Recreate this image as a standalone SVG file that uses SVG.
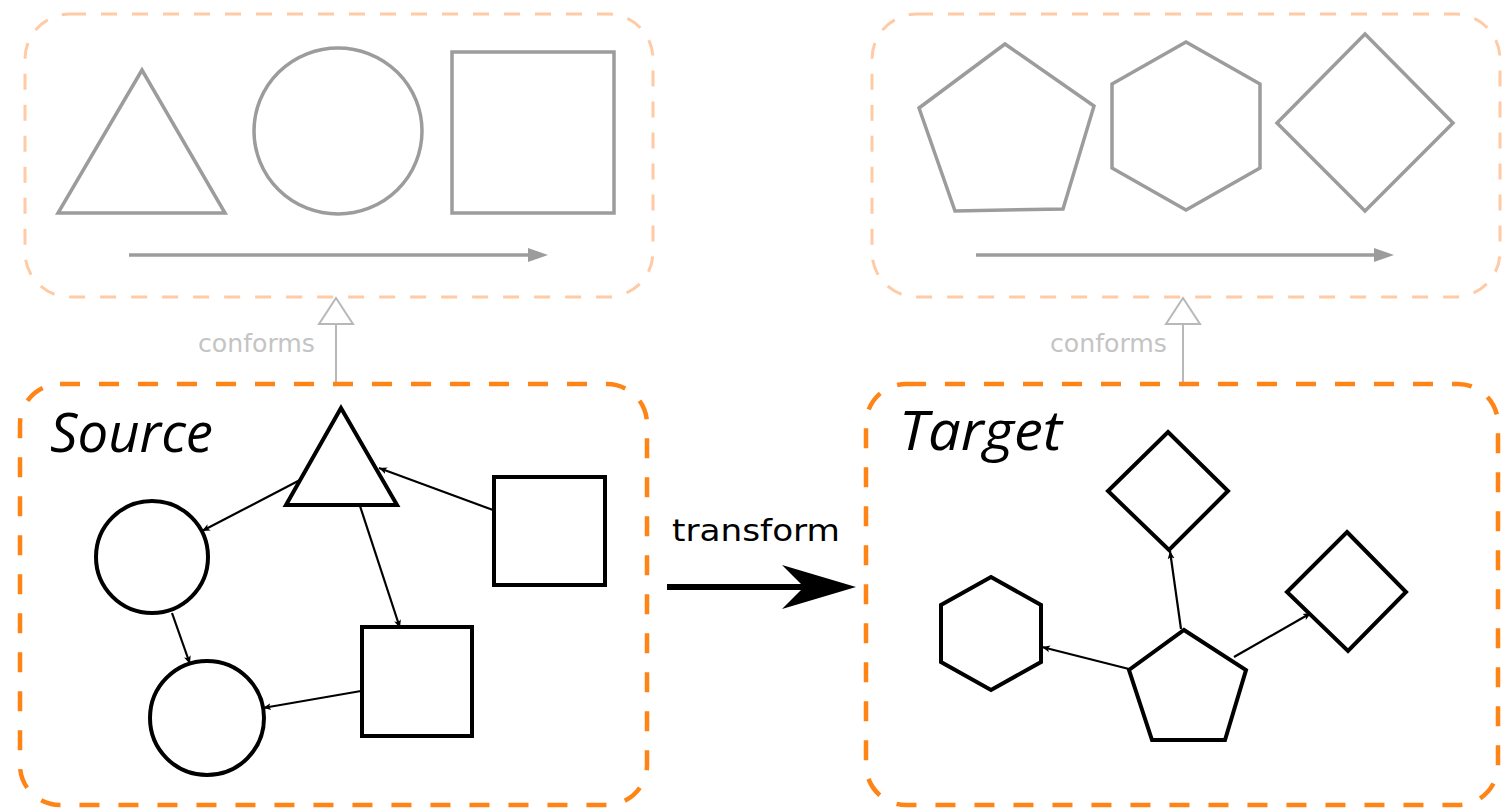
<svg xmlns="http://www.w3.org/2000/svg" width="1506" height="811" viewBox="0 0 1506 811">
<style>
.meta{fill:none;stroke:#ffcaa6;stroke-width:3;stroke-dasharray:16 15}
.model{fill:none;stroke:#ff8416;stroke-width:4.5;stroke-dasharray:20 19}
.gs{fill:#fff;stroke:#9c9c9c;stroke-width:3.5;stroke-linejoin:miter}
.bs{fill:#fff;stroke:#000;stroke-width:4;stroke-linejoin:miter}
.edge{fill:none;stroke:#000;stroke-width:2.2;marker-end:url(#sm)}
.conf{font-family:"DejaVu Sans","Liberation Sans",sans-serif;font-size:24px;fill:#c4c4c4}
.title{font-family:"Open Sans","DejaVu Sans",sans-serif;font-style:italic;font-size:54px;fill:#000}
</style>
<defs>
<marker id="sm" markerWidth="9" markerHeight="8" refX="8" refY="4" orient="auto" markerUnits="userSpaceOnUse">
<path d="M0,0.5 L8,4 L0,7.5 L2,4 Z" fill="#000"/>
</marker>
</defs>
<rect width="1506" height="811" fill="#fff"/>

<g id="source-meta">
<rect class="meta" x="25" y="14" width="628" height="283" rx="45"/>
<polygon class="gs" points="142,70 58,213 225,213"/>
<ellipse class="gs" cx="338" cy="131" rx="84" ry="83"/>
<rect class="gs" x="452" y="52" width="162" height="161"/>
<line x1="129" y1="255" x2="532" y2="255" stroke="#9c9c9c" stroke-width="3.5"/>
<path d="M548,255 L528,248 L528,262 Z" fill="#9c9c9c"/>
</g>

<g id="target-meta">
<rect class="meta" x="872" y="14" width="628" height="283" rx="45"/>
<polygon class="gs" points="1005,44 1094,106 1063,209 955,211 919,108"/>
<polygon class="gs" points="1186,42 1260,84 1260,168 1186,210 1112,168 1112,84"/>
<polygon class="gs" points="1365,34 1453,123 1365,211 1277,123"/>
<line x1="976" y1="255" x2="1378" y2="255" stroke="#9c9c9c" stroke-width="3.5"/>
<path d="M1394,255 L1374,248 L1374,262 Z" fill="#9c9c9c"/>
</g>

<g id="conforms-source">
<line x1="336" y1="383" x2="336" y2="324" stroke="#b8b8b8" stroke-width="2"/>
<polygon points="336,298 319,324 353,324" fill="#fff" stroke="#b8b8b8" stroke-width="2"/>
<text class="conf" x="198" y="352" textLength="117" lengthAdjust="spacingAndGlyphs">conforms</text>
</g>

<g id="conforms-target">
<line x1="1183" y1="383" x2="1183" y2="324" stroke="#b8b8b8" stroke-width="2"/>
<polygon points="1183,298 1166,324 1200,324" fill="#fff" stroke="#b8b8b8" stroke-width="2"/>
<text class="conf" x="1050" y="352" textLength="117" lengthAdjust="spacingAndGlyphs">conforms</text>
</g>

<g id="source-model">
<rect class="model" x="20" y="384" width="627" height="421" rx="40"/>
<text class="title" x="50" y="452" textLength="163" lengthAdjust="spacingAndGlyphs">Source</text>
</g>

<g id="target-model">
<rect class="model" x="866" y="384" width="632" height="421" rx="40"/>
<text class="title" x="899" y="450" textLength="163" lengthAdjust="spacingAndGlyphs">Target</text>
</g>

<g id="connectors">
<line class="edge" x1="300" y1="480" x2="202" y2="531"/>
<line class="edge" x1="493" y1="510" x2="379" y2="468"/>
<line class="edge" x1="360" y1="506" x2="400" y2="628"/>
<line class="edge" x1="172" y1="613" x2="190" y2="664"/>
<line class="edge" x1="361" y1="691" x2="263" y2="708"/>
<line class="edge" x1="1181" y1="629" x2="1170" y2="551"/>
<line class="edge" x1="1129" y1="669" x2="1042" y2="647"/>
<line class="edge" x1="1234" y1="657" x2="1311" y2="613"/>
</g>

<g id="s-triangle"><polygon class="bs" points="341,408 286,505 397,505"/></g>
<g id="s-circle1"><ellipse class="bs" cx="152" cy="557" rx="56" ry="56"/></g>
<g id="s-circle2"><ellipse class="bs" cx="207" cy="718" rx="57" ry="57"/></g>
<g id="s-square1"><rect class="bs" x="494" y="477" width="111" height="108"/></g>
<g id="s-square2"><rect class="bs" x="362" y="627" width="110" height="109"/></g>

<g id="t-diamond1"><polygon class="bs" points="1168,432 1228,491 1169,550 1108,491"/></g>
<g id="t-diamond2"><polygon class="bs" points="1347,532 1406,592 1348,651 1287,592"/></g>
<g id="t-hexagon"><polygon class="bs" points="991,577 1041,605 1041,662 991,690 941,662 941,605"/></g>
<g id="t-pentagon"><polygon class="bs" points="1184,630 1246,670 1225,740 1152,740 1129,670"/></g>

<g id="transform">
<text x="672" y="541" font-family="DejaVu Sans, Liberation Sans, sans-serif" font-size="31" fill="#000" textLength="168" lengthAdjust="spacingAndGlyphs">transform</text>
<line x1="667" y1="587" x2="805" y2="587" stroke="#000" stroke-width="6"/>
<path d="M856,587 L782,565 L804,587 L782,609 Z" fill="#000"/>
</g>
</svg>
